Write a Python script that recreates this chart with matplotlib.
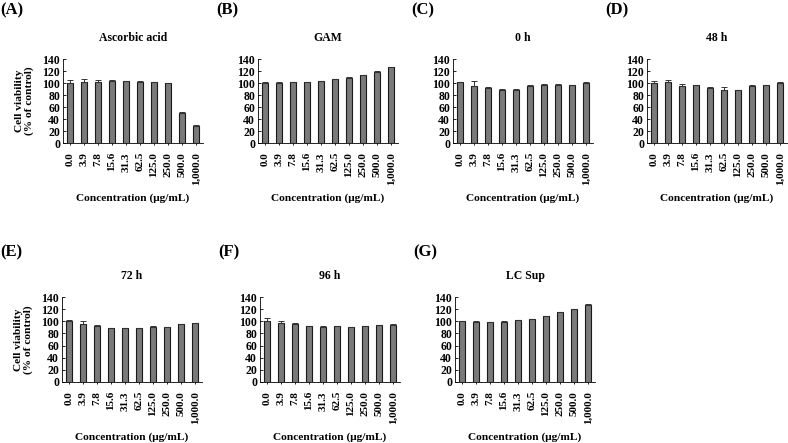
import matplotlib
matplotlib.use('Agg')
import matplotlib.pyplot as plt

# Data
CONC_LABELS = ['0.0', '3.9', '7.8', '15.6', '31.3', '62.5', '125.0', '250.0', '500.0', '1,000.0']

ascorbic = [100, 102, 102, 104, 103, 102.5, 101, 99.5, 50, 29]
ascorbic_err = [5, 5, 3, 1, 1, 1, 1, 1, 1, 1.5]
gam = [100, 100, 101, 101.5, 103, 106, 109, 113, 119, 126]
gam_err = [1, 1, 1, 1, 1, 1, 1, 1, 1, 1]
h0 = [101, 95, 91, 89, 89, 95, 97, 97, 96, 100]
h0_err = [1, 8, 3, 0.5, 1, 1.5, 1, 1, 1, 1]
h48 = [100, 102, 95, 96, 92, 89, 88, 95, 96, 100]
h48_err = [3, 3, 3, 1, 2, 5, 0.5, 1.5, 1, 1]
h72 = [100, 96, 92, 89, 89, 88.5, 91, 90.5, 95, 96.5]
h72_err = [2, 5, 1.5, 0.5, 0.5, 0.5, 0.5, 0.5, 0.5, 0.5]
h96 = [100, 97, 95, 92, 91, 91.5, 90.5, 92, 93.5, 94.5]
h96_err = [6, 3, 2, 0.5, 0.5, 0.5, 0.5, 0.5, 0.5, 0.5]
lc_sup = [100, 99.5, 99, 99.5, 101.5, 103.5, 108, 115, 120, 127]
lc_sup_err = [1, 0.5, 0.5, 0.5, 1, 1, 1, 1, 1, 1]

PANELS = [
    ('(A)', 'Ascorbic acid', ascorbic, ascorbic_err),
    ('(B)', 'GAM', gam, gam_err),
    ('(C)', '0 h', h0, h0_err),
    ('(D)', '48 h', h48, h48_err),
    ('(E)', '72 h', h72, h72_err),
    ('(F)', '96 h', h96, h96_err),
    ('(G)', 'LC Sup', lc_sup, lc_sup_err),
]

plt.rcParams['font.family'] = ['Liberation Serif', 'DejaVu Serif']
plt.rcParams['font.weight'] = 'bold'

W, H = 788, 443
fig = plt.figure(figsize=(W / 100, H / 100), dpi=100)

# axes positions in pixels: (left, top of 140, bottom at 0)
positions = [
    (63, 59, 143), (258, 59, 143), (453, 59, 143), (647, 59, 143),
    (62, 297, 382), (260, 297, 382), (455, 297, 382),
]
AX_W = 140

for i, (letter, title, vals, errs) in enumerate(PANELS):
    left, top, bottom = positions[i]
    ax = fig.add_axes([left / W, 1 - bottom / H, AX_W / W, (bottom - top) / H])
    x = range(len(vals))
    ax.bar(x, vals, width=0.38, color='#7a7a7a', edgecolor='#1a1a1a', linewidth=0.8)
    ax.errorbar(x, vals, yerr=[[0] * len(errs), errs], fmt='none', ecolor='#333333',
                elinewidth=0.7, capsize=2.2, capthick=0.7)
    ax.set_xlim(-0.5, 9.5)
    ax.set_ylim(0, 140)
    ax.set_yticks(range(0, 141, 20))
    ax.set_xticks(list(x))
    ax.set_xticklabels(CONC_LABELS, rotation=90, fontsize=8, fontweight='bold')
    ax.tick_params(axis='y', direction='in', length=2, labelsize=8.5, width=0.6, pad=2)
    ax.tick_params(axis='x', direction='out', length=1.5, width=0.6, pad=5)
    for lab in ax.get_yticklabels():
        lab.set_fontweight('bold')
    ax.spines['top'].set_visible(False)
    ax.spines['right'].set_visible(False)
    ax.spines['left'].set_linewidth(0.6)
    ax.spines['bottom'].set_linewidth(0.6)
    ax.set_title(title, fontsize=8.5, fontweight='bold', pad=13)
    ax.set_xlabel('Concentration (\u03bcg/mL)', fontsize=8.2, fontweight='bold', labelpad=6)
    if i in (0, 4):
        ax.set_ylabel('Cell viability\n(% of control)', fontsize=8.2, fontweight='bold',
                      labelpad=6, linespacing=1.0)
    lx = 0 if i in (0, 4) else left - 42
    ly = 10 if i < 4 else 252
    fig.text(lx / W, 1 - ly / H, letter, fontsize=12, fontweight='bold',
             va='center', ha='left')

fig.savefig('out.png', dpi=100)
